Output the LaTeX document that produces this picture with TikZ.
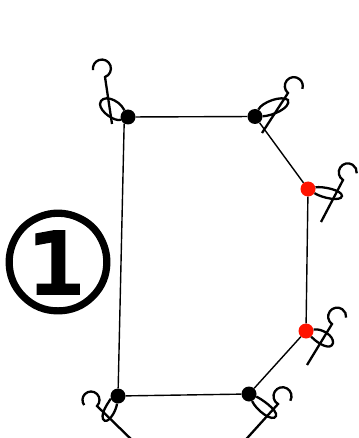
\documentclass[tikz,border=0pt]{standalone}
\usepackage{fontspec}
\newfontfamily\circledfont[FakeBold=1.2]{DejaVu Sans}

\begin{document}
\begin{tikzpicture}[x=1pt, y=-1pt]
    % Define styles
    \tikzstyle{joint} = [circle, inner sep=0pt, minimum size=15pt, fill=black]
    \tikzstyle{redjoint} = [joint, fill=red!85!orange]
    \tikzstyle{link} = [draw=black, line width=1.4pt]
    \tikzstyle{crook} = [draw=black, line width=2.3pt]

    \clip (0, 0) rectangle (358, 438);

    % Number
    \node (number) at (58, 262) {\fontsize{138}{138}\circledfont ①};

    % Joints
    \node[joint] (jointA) at (128, 117) {};
    \node[joint] (jointB) at (255, 116.5) {};
    \node[redjoint] (jointC) at (308, 189) {};
    \node[redjoint] (jointD) at (306, 331) {};
    \node[joint] (jointE) at (249, 394) {};
    \node[joint] (jointF) at (118, 396) {};

    % Links
    \draw[link] (jointA) -- (jointB);
    \draw[link] (jointB) -- (jointC);
    \draw[link] (jointC) -- (jointD);
    \draw[link] (jointD) -- (jointE);
    \draw[link] (jointE) -- (jointF);
    \draw[link] (jointF) -- (jointA.240);

    % Crook at joint A
    \draw[crook] (112, 124) -- (105, 77) arc (70:-190:9);
    \draw[crook] (jointA) .. controls (115, 122) and (100, 112) .. (100, 104)
        .. controls (101, 94) and (118, 98) .. (jointA);

    % Crook at joint B
    \draw[crook] (262, 133) -- (288, 93) arc (130:378:9);
    \draw[crook] (jointB) .. controls (262, 102) and (282, 95) .. (288, 100)
        .. controls (291, 108) and (272, 116) .. (jointB);

    % Crook at joint C
    \draw[crook] (321, 222) -- (343, 180) arc (122:366:9);
    \draw[crook] (jointC) .. controls (322, 186) and (342, 190) .. (342, 196)
        .. controls (341, 202) and (322, 198) .. (jointC);

    % Crook at joint D
    \draw[crook] (307, 365) -- (332, 324) arc (125:366:9);
    \draw[crook] (jointD) .. controls (322, 328) and (334, 336) .. (333, 343)
        .. controls (331, 351) and (318, 344) .. (jointD);

    % Crook at joint E
    \draw[crook] (240, 446) -- (278, 404) arc (120:390:9);
    \draw[crook] (jointE) .. controls (260, 398) and (278, 410) .. (276, 416)
        .. controls (273, 423) and (256, 410) .. (jointE);

    % Crook at joint F
    \draw[crook] (133, 441) -- (97, 406) arc (45:-217:8.5);
    \draw[crook] (jointF) .. controls (112, 398) and (100, 412) .. (103, 419)
        .. controls (107, 426) and (116, 412) .. (jointF);
\end{tikzpicture}
\end{document}
